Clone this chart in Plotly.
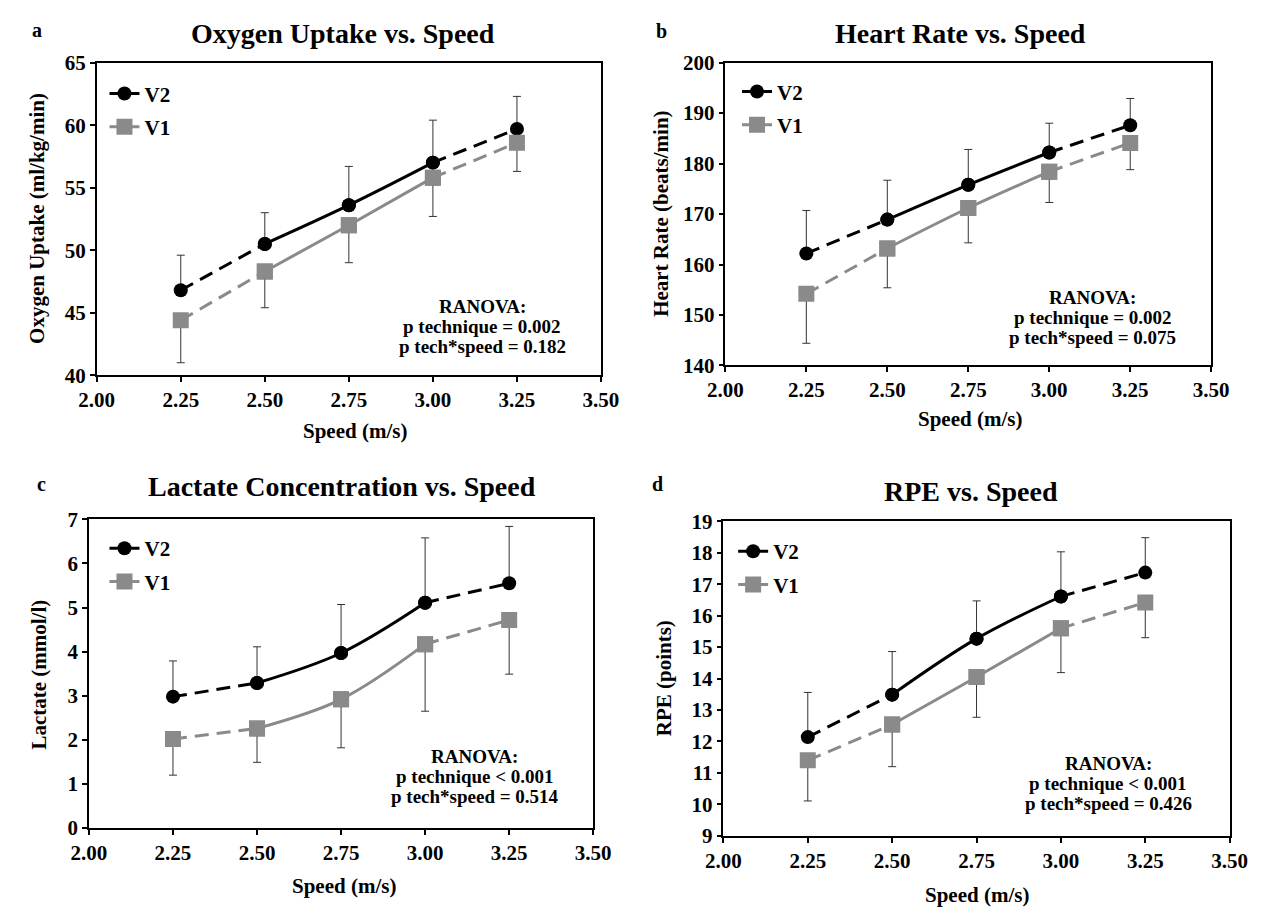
import plotly.graph_objects as go

# Speeds (m/s)
speeds = [2.25, 2.50, 2.75, 3.00, 3.25]

# a - Oxygen uptake (ml/kg/min)
vo2_v2 = [46.8, 50.5, 53.6, 57.0, 59.7]
vo2_v2_sd = [2.8, 2.5, 3.1, 3.4, 2.6]
vo2_v1 = [44.4, 48.3, 52.0, 55.8, 58.6]
vo2_v1_sd = [3.4, 2.9, 3.0, 3.1, 2.3]

# b - Heart rate (beats/min)
hr_v2 = [162.2, 168.9, 175.8, 182.2, 187.6]
hr_v2_sd = [8.5, 7.8, 7.0, 5.8, 5.3]
hr_v1 = [154.2, 163.2, 171.2, 178.4, 184.1]
hr_v1_sd = [9.8, 7.8, 6.9, 6.1, 5.3]

# c - Lactate (mmol/l)
lac_v2 = [2.98, 3.29, 3.97, 5.11, 5.55]
lac_v2_sd = [0.81, 0.82, 1.10, 1.47, 1.29]
lac_v1 = [2.02, 2.26, 2.92, 4.17, 4.72]
lac_v1_sd = [0.82, 0.77, 1.10, 1.52, 1.23]

# d - RPE (points)
rpe_v2 = [12.14, 13.49, 15.27, 16.61, 17.37]
rpe_v2_sd = [1.42, 1.37, 1.20, 1.42, 1.11]
rpe_v1 = [11.40, 12.54, 14.05, 15.60, 16.42]
rpe_v1_sd = [1.29, 1.34, 1.28, 1.41, 1.12]

letters = ['a', 'b', 'c', 'd']
titles = ['Oxygen Uptake vs. Speed', 'Heart Rate vs. Speed',
          'Lactate Concentration vs. Speed', 'RPE vs. Speed']
y_titles = ['Oxygen Uptake (ml/kg/min)', 'Heart Rate (beats/min)',
            'Lactate (mmol/l)', 'RPE (points)']
y_ranges = [(40, 65), (140, 200), (0, 7), (9, 19)]
y_dticks = [5, 10, 1, 1]
p_technique = ['p technique = 0.002', 'p technique = 0.002',
               'p technique < 0.001', 'p technique < 0.001']
p_interaction = ['p tech*speed = 0.182', 'p tech*speed = 0.075',
                 'p tech*speed = 0.514', 'p tech*speed = 0.426']

v2_data = [(vo2_v2, vo2_v2_sd), (hr_v2, hr_v2_sd), (lac_v2, lac_v2_sd), (rpe_v2, rpe_v2_sd)]
v1_data = [(vo2_v1, vo2_v1_sd), (hr_v1, hr_v1_sd), (lac_v1, lac_v1_sd), (rpe_v1, rpe_v1_sd)]

# layout in pixels: plot box (left, top, right, bottom)
W, H = 1270, 917
boxes = [(81, 52, 600, 373), (728, 52, 1228, 363), (73, 521, 592, 838), (726, 523, 1247, 846)]
title_pos = [(334, 22), (970, 22), (333, 487), (981, 492)]
letter_pos = [(20, 18), (662, 20), (24, 485), (658, 485)]
xtitle_pos = [(347, 430), (980, 418), (335, 898), (987, 907)]
ytitle_pos = [(20, 212), (661, 207), (22, 680), (665, 684)]
stats_pos = [(478, 302), (1106, 293), (470, 765), (1122, 772)]
legend_pos = [(89, 63), (740, 61), (89, 530), (736, 533)]

FONT = 'Liberation Serif'
BLACK = '#000000'
GRAY = '#8a8a8a'


def fx(x):
    return x / W


def fy(y):
    return 1 - y / H


fig = go.Figure()
annotations = []
layout = {}

for i in range(4):
    n = '' if i == 0 else str(i + 1)
    xref, yref = 'x' + n, 'y' + n
    leg = 'legend' + n
    series = [('V2', v2_data[i], BLACK, 'circle', 14, 'up'),
              ('V1', v1_data[i], GRAY, 'square', 16, 'down')]
    for name, (vals, sd), color, symbol, msize, direction in series:
        group = name + letters[i]
        dash = dict(color=color, width=3, dash='14px,8px')
        # dashed first segment
        fig.add_trace(go.Scatter(x=speeds[0:2], y=vals[0:2], mode='lines', line=dash,
                                 xaxis=xref, yaxis=yref, showlegend=False, legendgroup=group,
                                 hoverinfo='skip'))
        # dashed last segment
        fig.add_trace(go.Scatter(x=speeds[3:5], y=vals[3:5], mode='lines', line=dash,
                                 xaxis=xref, yaxis=yref, showlegend=False, legendgroup=group,
                                 hoverinfo='skip'))
        # solid smoothed middle, carries the legend entry
        fig.add_trace(go.Scatter(x=speeds[1:4], y=vals[1:4], mode='lines+markers', name=name,
                                 line=dict(color=color, width=3, shape='spline', smoothing=1),
                                 marker=dict(symbol=symbol, size=msize, color=color),
                                 xaxis=xref, yaxis=yref, legend=leg, legendgroup=group))
        zeros = [0] * len(sd)
        err = dict(type='data', symmetric=False,
                   array=sd if direction == 'up' else zeros,
                   arrayminus=zeros if direction == 'up' else sd,
                   color='#333333', thickness=1, width=4)
        fig.add_trace(go.Scatter(x=speeds, y=vals, mode='markers', error_y=err,
                                 marker=dict(symbol=symbol, size=msize, color=color),
                                 xaxis=xref, yaxis=yref, showlegend=False, legendgroup=group))

    l, t, r, b = boxes[i]
    axis_common = dict(showline=True, mirror=True, linecolor=BLACK, linewidth=1.5,
                       ticks='outside', ticklen=5, tickwidth=1.5, tickcolor=BLACK,
                       showgrid=False, zeroline=False,
                       tickfont=dict(family=FONT, size=21, color=BLACK, weight='bold'))
    layout['xaxis' + n] = dict(axis_common, domain=[fx(l), fx(r)], range=[2.0, 3.5],
                               tick0=2.0, dtick=0.25, tickformat='.2f', anchor=yref)
    lo, hi = y_ranges[i]
    layout['yaxis' + n] = dict(axis_common, domain=[fy(b), fy(t)], range=[lo, hi],
                               tick0=lo, dtick=y_dticks[i], anchor=xref)
    lx, ly = legend_pos[i]
    layout[leg] = dict(x=fx(lx), y=fy(ly), xanchor='left', yanchor='top',
                       bgcolor='rgba(0,0,0,0)', traceorder='grouped', tracegroupgap=3,
                       font=dict(family=FONT, size=21, color=BLACK, weight='bold'))

    tx, ty = title_pos[i]
    annotations.append(dict(text='<b>' + titles[i] + '</b>', x=fx(tx), y=fy(ty),
                            font=dict(size=28)))
    px_, py_ = letter_pos[i]
    annotations.append(dict(text='<b>' + letters[i] + '</b>', x=fx(px_), y=fy(py_),
                            font=dict(size=20)))
    ax_, ay_ = xtitle_pos[i]
    annotations.append(dict(text='<b>Speed (m/s)</b>', x=fx(ax_), y=fy(ay_),
                            font=dict(size=21)))
    yx, yy = ytitle_pos[i]
    annotations.append(dict(text='<b>' + y_titles[i] + '</b>', x=fx(yx), y=fy(yy),
                            textangle=-90, font=dict(size=21)))
    sx, sy = stats_pos[i]
    for k, line in enumerate(['RANOVA:', p_technique[i], p_interaction[i]]):
        annotations.append(dict(text='<b>' + line + '</b>', x=fx(sx), y=fy(sy + 20.5 * k),
                                font=dict(size=19)))

for a in annotations:
    a.update(xref='paper', yref='paper', showarrow=False, xanchor='center', yanchor='middle')
    a['font'].update(family=FONT, color=BLACK)

fig.update_layout(width=W, height=H, margin=dict(l=0, r=0, t=0, b=0),
                  paper_bgcolor='white', plot_bgcolor='white',
                  font=dict(family=FONT, color=BLACK),
                  annotations=annotations, **layout)

# drop the default page margin so the figure sits at the window's top-left corner
fig.write_html("out.html", config={'displayModeBar': False},
               post_script="document.body.style.margin = '0';")
